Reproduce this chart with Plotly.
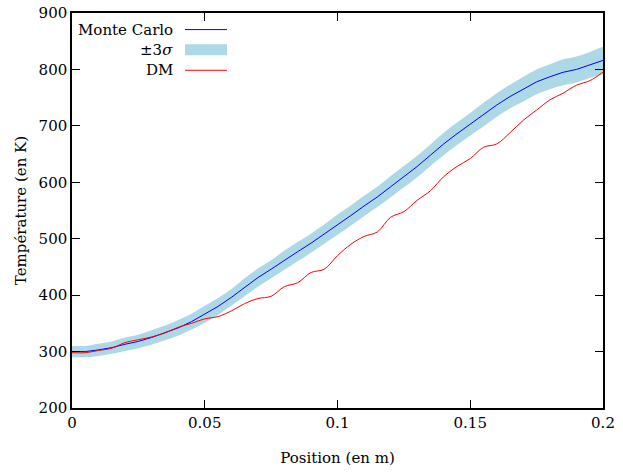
import plotly.graph_objects as go

# Position (m), pas de 0.005
position = [0.000, 0.005, 0.010, 0.015, 0.020, 0.025, 0.030, 0.035, 0.040, 0.045,
            0.050, 0.055, 0.060, 0.065, 0.070, 0.075, 0.080, 0.085, 0.090, 0.095,
            0.100, 0.105, 0.110, 0.115, 0.120, 0.125, 0.130, 0.135, 0.140, 0.145,
            0.150, 0.155, 0.160, 0.165, 0.170, 0.175, 0.180, 0.185, 0.190, 0.195,
            0.200]

monte_carlo = [300, 300, 303, 307, 313, 318, 325, 333, 342, 353,
               366, 380, 396, 414, 431, 446, 462, 477, 492, 508,
               525, 541, 558, 574, 592, 610, 628, 648, 668, 686,
               703, 720, 737, 752, 765, 778, 787, 795, 800, 808,
               816]

sigma3 = [10, 10, 11, 11, 12, 12, 13, 13, 14, 14,
          15, 15, 15, 16, 16, 16, 17, 17, 17, 17,
          18, 18, 18, 18, 19, 19, 19, 19, 20, 20,
          20, 21, 21, 21, 22, 22, 22, 23, 23, 23,
          24]

dm = [298, 298, 302, 306, 316, 321, 326, 333, 343, 350,
      358, 362, 372, 385, 394, 398, 415, 422, 440, 446,
      470, 490, 504, 512, 538, 548, 568, 585, 610, 628,
      642, 662, 668, 688, 710, 728, 746, 758, 772, 780,
      795]

upper = [m + s for m, s in zip(monte_carlo, sigma3)]
lower = [m - s for m, s in zip(monte_carlo, sigma3)]

FONT = "DejaVu Serif"
FSIZE = 15
BAND = "#add8e6"

fig = go.Figure()

# --- bande +/- 3 sigma ---
fig.add_trace(go.Scatter(x=position, y=upper, mode="lines",
                         line=dict(width=0, color=BAND, shape="spline"), showlegend=False,
                         hoverinfo="skip"))
fig.add_trace(go.Scatter(x=position, y=lower, mode="lines",
                         line=dict(width=0, color=BAND, shape="spline"), fill="tonexty",
                         fillcolor=BAND, showlegend=False, hoverinfo="skip"))

# --- Monte Carlo ---
fig.add_trace(go.Scatter(x=position, y=monte_carlo, mode="lines", name="Monte Carlo",
                         line=dict(width=1, color="blue"), showlegend=False))

# --- DM ---
fig.add_trace(go.Scatter(x=position, y=dm, mode="lines", name="DM",
                         line=dict(width=1, color="red", shape="spline"),
                         showlegend=False))

# --- legende facon gnuplot (texte a droite, echantillon a gauche) ---
legend = [("Monte Carlo", 0.958, "line", "blue"),
          ("±3<i>σ</i>", 0.907, "band", BAND),
          ("DM", 0.855, "line", "red")]
for label, ypos, kind, color in legend:
    fig.add_annotation(x=0.194, y=ypos, xref="paper", yref="paper",
                       text=label, showarrow=False, xanchor="right",
                       yanchor="middle", font=dict(family=FONT, size=FSIZE, color="black"))
    if kind == "line":
        fig.add_shape(type="line", xref="paper", yref="paper",
                      x0=0.2128, x1=0.2919, y0=ypos, y1=ypos,
                      line=dict(color=color, width=1))
    else:
        fig.add_shape(type="rect", xref="paper", yref="paper",
                      x0=0.2128, x1=0.2919, y0=ypos - 0.014, y1=ypos + 0.014,
                      fillcolor=color, line=dict(width=0))

axis_style = dict(showline=True, linecolor="black", linewidth=1.5, mirror="ticks",
                  ticks="inside", ticklen=8, tickwidth=1, tickcolor="black",
                  showgrid=False, zeroline=False, automargin=False,
                  tickfont=dict(family=FONT, size=FSIZE, color="black"))

fig.update_xaxes(range=[0, 0.2], tickvals=[0, 0.05, 0.1, 0.15, 0.2],
                 ticktext=["0", "0.05", "0.1", "0.15", "0.2"],
                 title=dict(text="Position (en m)", font=dict(family=FONT, size=FSIZE, color="black"),
                            standoff=22),
                 **axis_style)
fig.update_yaxes(range=[200, 900], dtick=100,
                 title=dict(text="Température (en K)", font=dict(family=FONT, size=FSIZE, color="black"),
                            standoff=8),
                 **axis_style)

fig.update_layout(
    width=623, height=473,
    margin=dict(l=72, r=20, t=13, b=65),
    plot_bgcolor="white", paper_bgcolor="white",
    showlegend=False,
)

# marge du body a zero pour que la figure commence en haut a gauche
fig.write_html("out.html", config={"displayModeBar": False},
               post_script="document.body.style.margin='0px';")
